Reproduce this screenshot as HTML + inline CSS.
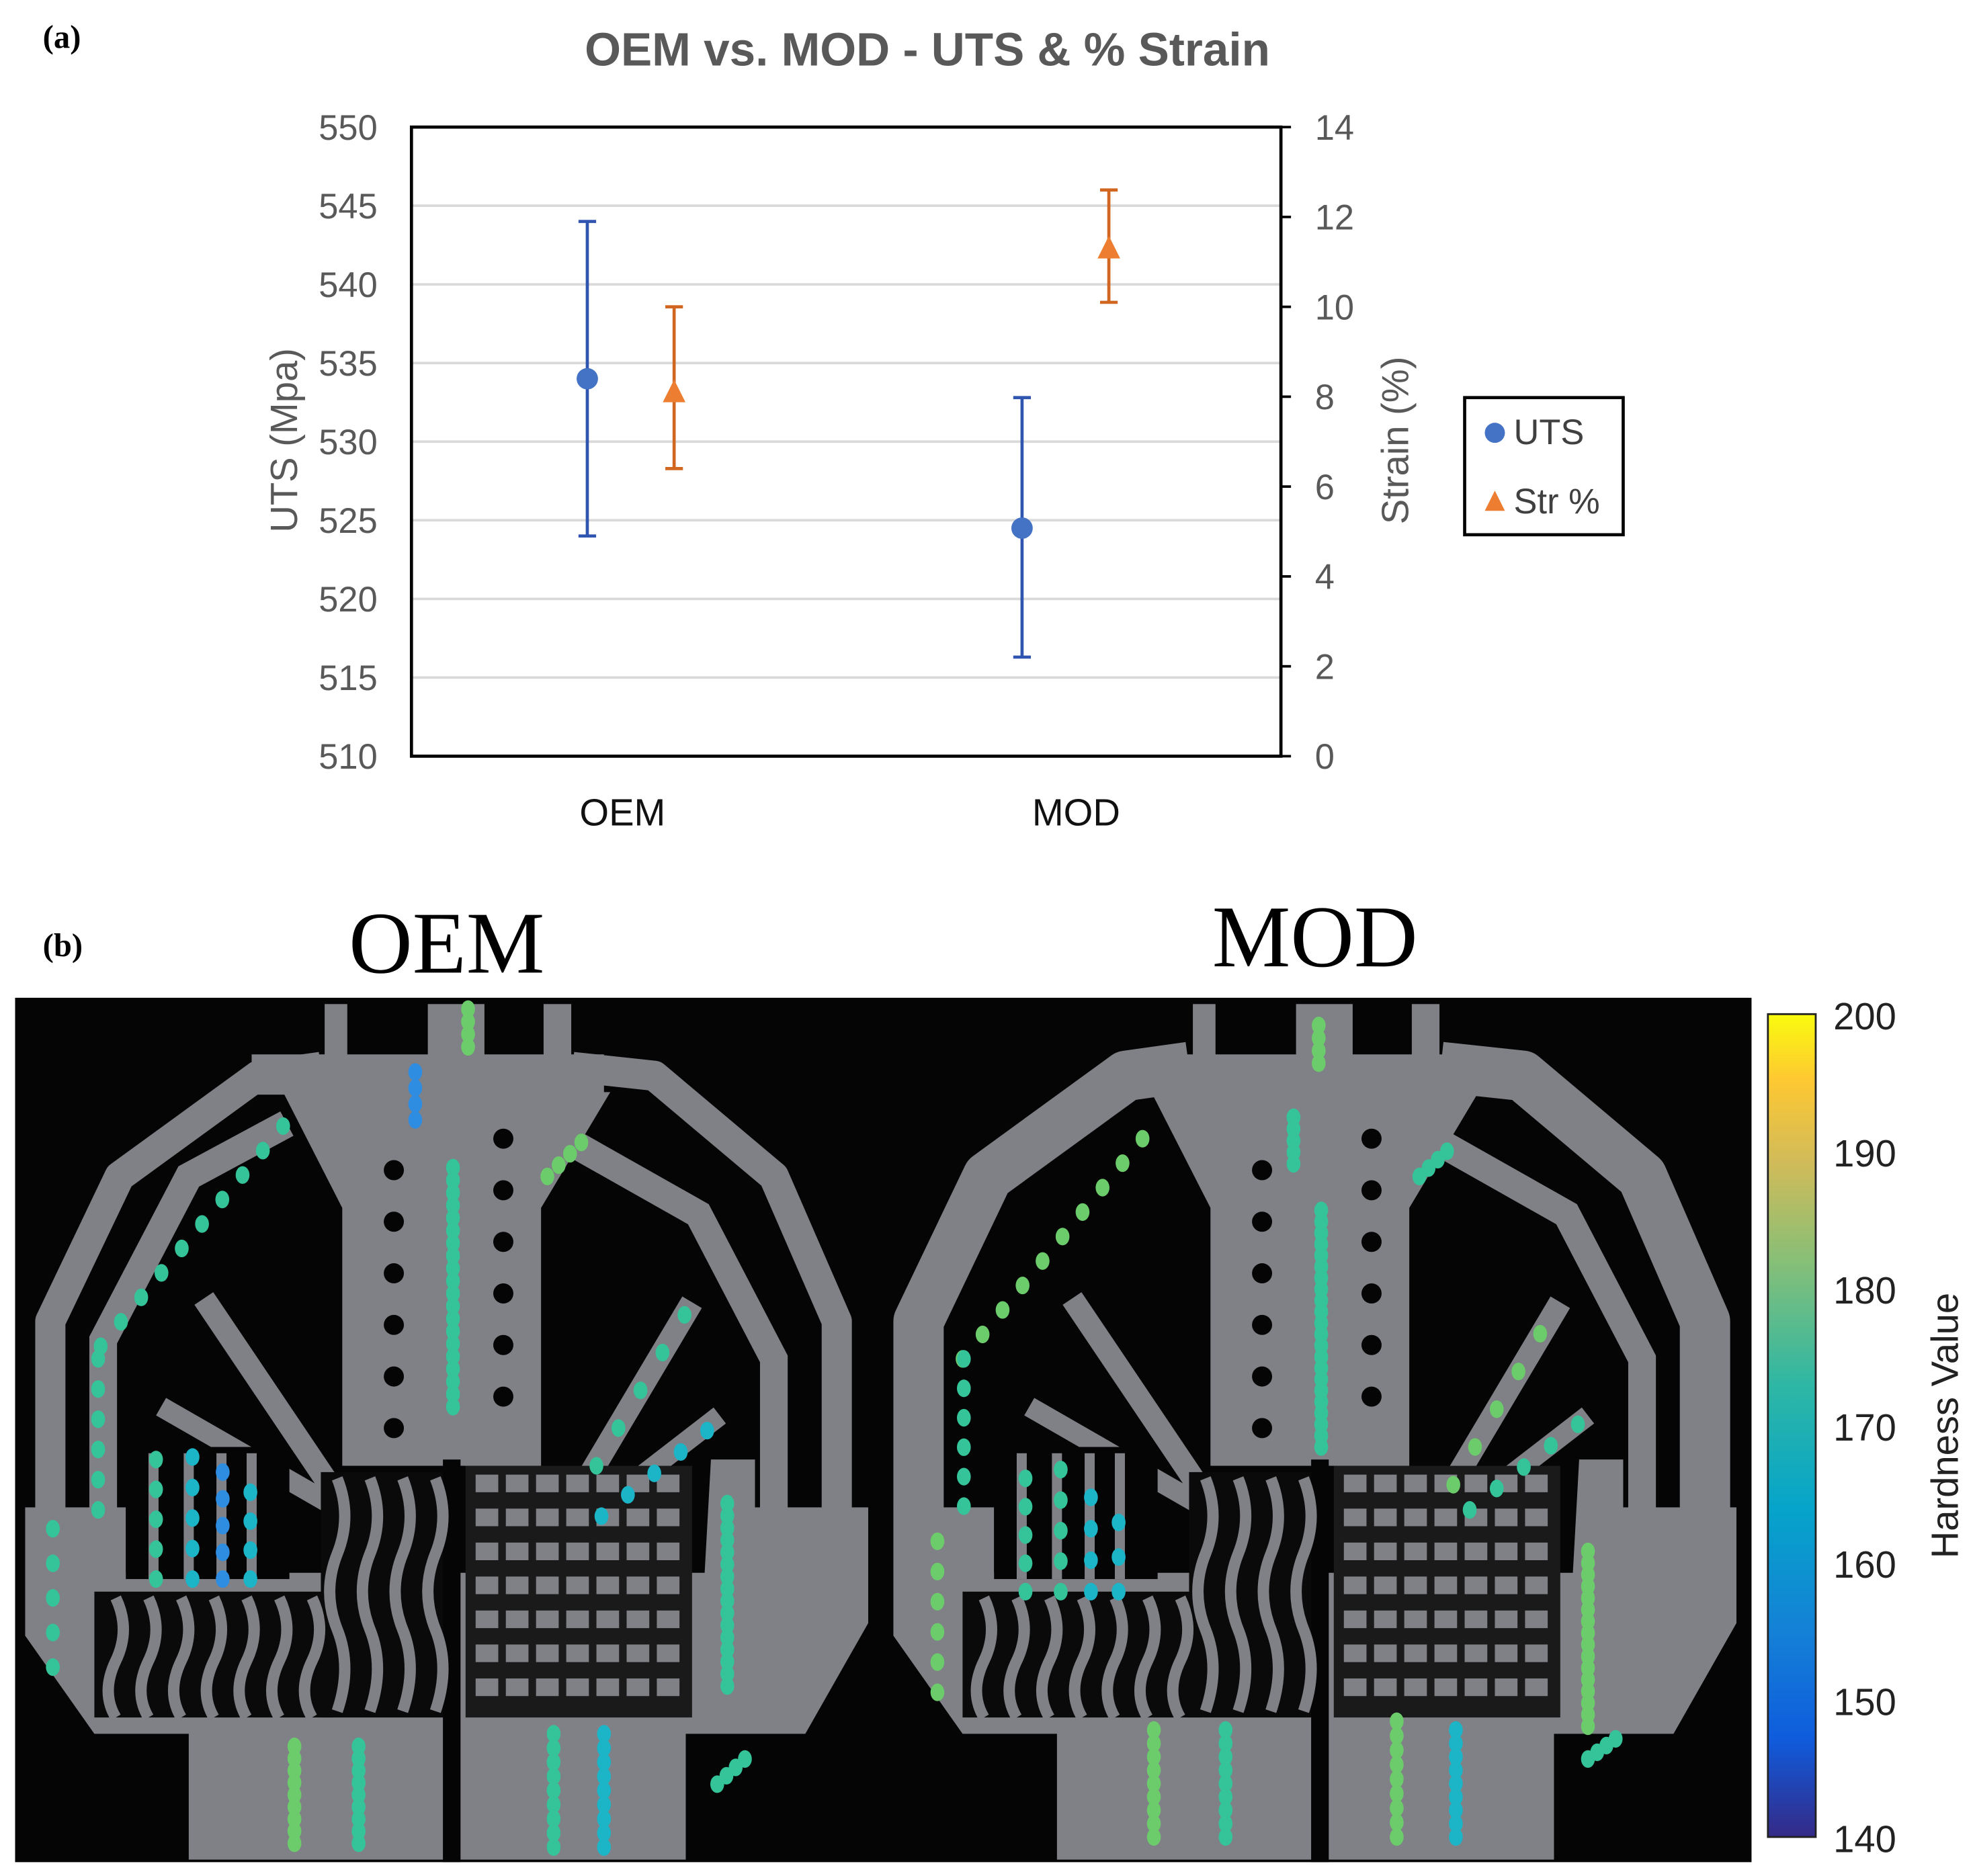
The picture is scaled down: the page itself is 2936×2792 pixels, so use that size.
<!DOCTYPE html>
<html><head><meta charset="utf-8"><style>
html,body{margin:0;padding:0;background:#fff;}
svg{display:block;}
</style></head><body>
<svg id="fig" width="2936" height="2792" viewBox="0 0 1568 1491" preserveAspectRatio="none" xmlns="http://www.w3.org/2000/svg">
<defs>
<linearGradient id="parula" x1="0" y1="1" x2="0" y2="0">
<stop offset="0" stop-color="#352a87"/><stop offset="0.12" stop-color="#0f5cdd"/><stop offset="0.25" stop-color="#1481d6"/><stop offset="0.4" stop-color="#06a4ca"/><stop offset="0.55" stop-color="#2eb7a4"/><stop offset="0.7" stop-color="#87bf77"/><stop offset="0.82" stop-color="#d1bb59"/><stop offset="0.92" stop-color="#fec832"/><stop offset="1" stop-color="#f9fb0e"/>
</linearGradient>
</defs>
<text x="34" y="38" font-family="Liberation Serif, serif" font-weight="bold" font-size="26">(a)</text>
<text x="737" y="52" text-anchor="middle" font-family="Liberation Sans, sans-serif" font-weight="bold" font-size="37" fill="#595959">OEM vs. MOD - UTS &amp; % Strain</text>
<g id="grid"></g>
<g id="axes"></g>
<g id="marks"></g>
<text transform="translate(236,350) rotate(-90)" text-anchor="middle" font-family="Liberation Sans, sans-serif" font-size="30" fill="#595959">UTS (Mpa)</text>
<text transform="translate(1119,350) rotate(-90)" text-anchor="middle" font-family="Liberation Sans, sans-serif" font-size="30" fill="#595959">Strain (%)</text>
<g>
<rect x="1164" y="316" width="126" height="109" fill="#fff" stroke="#000" stroke-width="2.5"/>
<circle cx="1188" cy="344" r="8" fill="#4472c4"/>
<text x="1203" y="353" font-family="Liberation Sans, sans-serif" font-size="28" fill="#404040">UTS</text>
<path d="M1180,406 L1188,390 L1196,406 Z" fill="#ed7d31"/>
<text x="1203" y="408" font-family="Liberation Sans, sans-serif" font-size="28" fill="#404040">Str %</text>
</g>

<text x="34" y="760" font-family="Liberation Serif, serif" font-weight="bold" font-size="26">(b)</text>
<text x="355" y="773" text-anchor="middle" font-family="Liberation Serif, serif" font-size="70">OEM</text>
<text x="1045" y="768" text-anchor="middle" font-family="Liberation Serif, serif" font-size="70">MOD</text>
<rect x="12" y="793" width="1380" height="687" fill="#050505"/>
<g id="parts"></g>
<g>
<rect x="1405" y="806" width="38" height="654" fill="url(#parula)" stroke="#222" stroke-width="1.5"/>
<g font-family="Liberation Sans, sans-serif" font-size="30" fill="#222">
<text x="1457" y="818">200</text><text x="1457" y="927">190</text><text x="1457" y="1036">180</text><text x="1457" y="1145">170</text><text x="1457" y="1254">160</text><text x="1457" y="1363">150</text><text x="1457" y="1472">140</text>
</g>
<text transform="translate(1556,1133) rotate(-90)" text-anchor="middle" font-family="Liberation Sans, sans-serif" font-size="30" fill="#222">Hardness Value</text>
</g>
</svg>
<script>
const categories = ["OEM", "MOD"];
const utsValues = [534, 524.5];
const utsErrLow = [524, 516.3];
const utsErrHigh = [544, 532.8];
const strainValues = [8.1, 11.3];
const strainErrLow = [6.4, 10.1];
const strainErrHigh = [10.0, 12.6];
const leftTicks = [510, 515, 520, 525, 530, 535, 540, 545, 550];
const rightTicks = [0, 2, 4, 6, 8, 10, 12, 14];

const NS = "http://www.w3.org/2000/svg";
const X0 = 327, X1 = 1018, Y0 = 101, Y1 = 601;
function yL(v){ return Y1 - (v - 510) / 40 * (Y1 - Y0); }
function yR(v){ return Y1 - v / 14 * (Y1 - Y0); }
function xCat(i, off){ return X0 + (X1 - X0) * (0.25 + 0.5 * i) + off; }
function mk(tag, attrs, parent){ const e = document.createElementNS(NS, tag); for (const k in attrs) e.setAttribute(k, attrs[k]); parent.appendChild(e); return e; }

const grid = document.getElementById('grid');
const axes = document.getElementById('axes');
const marks = document.getElementById('marks');
leftTicks.forEach(t => {
  if (t > 510 && t < 550) {
    const g = mk('line', {x1: X0, x2: X1, y1: yL(t), y2: yL(t), stroke: '#d9d9d9', 'stroke-width': 2}, grid);
    
    
  }
  const tx = mk('text', {x: 300, y: yL(t) + 10, 'text-anchor': 'end', 'font-family': 'Liberation Sans, sans-serif', 'font-size': 28, fill: '#595959'}, axes);
  tx.textContent = t;
  
  
});
rightTicks.forEach(t => {
  mk('line', {x1: X1, x2: X1 + 8, y1: yR(t), y2: yR(t), stroke: '#000', 'stroke-width': 2}, axes);
  const tx = mk('text', {x: 1045, y: yR(t) + 10, 'font-family': 'Liberation Sans, sans-serif', 'font-size': 28, fill: '#595959'}, axes);
  tx.textContent = t;
  
  
});
const frame = mk('rect', {x: X0, y: Y0, width: X1 - X0, height: Y1 - Y0, fill: 'none', stroke: '#000', 'stroke-width': 2.5}, axes);


categories.forEach((c, i) => {
  const tx = mk('text', {x: xCat(i, i ? 10 : -5), y: 656, 'text-anchor': 'middle', 'font-family': 'Liberation Sans, sans-serif', 'font-size': 30, fill: '#111'}, axes);
  tx.textContent = c;
  
  
  const ux = xCat(i, -33);
  mk('line', {x1: ux, x2: ux, y1: yL(utsErrLow[i]), y2: yL(utsErrHigh[i]), stroke: '#2f55b0', 'stroke-width': 2.5}, marks);
  mk('line', {x1: ux - 7, x2: ux + 7, y1: yL(utsErrLow[i]), y2: yL(utsErrLow[i]), stroke: '#2f55b0', 'stroke-width': 2.5}, marks);
  mk('line', {x1: ux - 7, x2: ux + 7, y1: yL(utsErrHigh[i]), y2: yL(utsErrHigh[i]), stroke: '#2f55b0', 'stroke-width': 2.5}, marks);
  const p = mk('circle', {cx: ux, cy: yL(utsValues[i]), r: 8.5, fill: '#4472c4'}, marks);
  
  
  const sx = xCat(i, 36);
  mk('line', {x1: sx, x2: sx, y1: yR(strainErrLow[i]), y2: yR(strainErrHigh[i]), stroke: '#d0661f', 'stroke-width': 2.5}, marks);
  mk('line', {x1: sx - 7, x2: sx + 7, y1: yR(strainErrLow[i]), y2: yR(strainErrLow[i]), stroke: '#d0661f', 'stroke-width': 2.5}, marks);
  mk('line', {x1: sx - 7, x2: sx + 7, y1: yR(strainErrHigh[i]), y2: yR(strainErrHigh[i]), stroke: '#d0661f', 'stroke-width': 2.5}, marks);
  const yy = yR(strainValues[i]);
  const tr = mk('path', {d: `M${sx - 9},${yy + 8} L${sx},${yy - 10} L${sx + 9},${yy + 8} Z`, fill: '#ed7d31'}, marks);
  
  
});

const parts = document.getElementById('parts');
const G = '#7f8186';
function drawPart(dx, name, mod){
  const g = mk('g', {transform: `translate(${dx},0)`}, parts);
  
  
  const sw = mod ? 40 : 24;
  mk('path', {d: 'M255,848 L205,855 L95,935 L40,1050 L40,1200', fill: 'none', stroke: G, 'stroke-width': sw, 'stroke-linejoin': 'round'}, g);
  mk('path', {d: 'M455,848 L520,855 L615,935 L665,1050 L665,1200', fill: 'none', stroke: G, 'stroke-width': sw, 'stroke-linejoin': 'round'}, g);
  if (!mod) mk('path', {d: 'M228,893 L150,935 L82,1065 L82,1200', fill: 'none', stroke: G, 'stroke-width': 22}, g);
  mk('path', {d: 'M440,900 L555,965 L615,1080 L615,1200', fill: 'none', stroke: G, 'stroke-width': 22}, g);
  mk('rect', {x: 200, y: 838, width: 280, height: 32, fill: G}, g);
  mk('rect', {x: 258, y: 798, width: 18, height: 42, fill: G}, g);
  mk('rect', {x: 340, y: 798, width: 45, height: 42, fill: G}, g);
  mk('rect', {x: 432, y: 798, width: 22, height: 42, fill: G}, g);
  mk('path', {d: 'M225,868 L485,868 L430,960 L430,1165 L272,1165 L272,960 Z', fill: G}, g);
  for (let k = 0; k < 6; k++) {
    mk('circle', {cx: 313, cy: 930 + k * 41, r: 8, fill: '#050505'}, g);
    mk('circle', {cx: 400, cy: 905 + k * 41, r: 8, fill: '#050505'}, g);
  }
  mk('line', {x1: 265, y1: 1185, x2: 162, y2: 1032, stroke: G, 'stroke-width': 18}, g);
  mk('line', {x1: 262, y1: 1195, x2: 128, y2: 1118, stroke: G, 'stroke-width': 16}, g);
  mk('line', {x1: 452, y1: 1200, x2: 550, y2: 1035, stroke: G, 'stroke-width': 18}, g);
  mk('line', {x1: 462, y1: 1210, x2: 572, y2: 1125, stroke: G, 'stroke-width': 16}, g);
  mk('path', {d: 'M20,1198 L100,1198 L100,1250 L560,1250 L565,1160 L600,1160 L600,1198 L690,1198 L690,1290 L640,1378 L545,1378 L545,1478 L150,1478 L150,1378 L75,1378 L20,1300 Z', fill: G}, g);
  mk('rect', {x: 100, y: 1150, width: 130, height: 105, fill: '#050505'}, g);
  [122, 150, 176, 200].forEach(x => mk('rect', {x: x - 4, y: 1155, width: 8, height: 100, fill: G}, g));
  mk('rect', {x: 75, y: 1265, width: 190, height: 100, fill: '#0a0a0a'}, g);
  mk('rect', {x: 255, y: 1170, width: 100, height: 195, fill: '#0a0a0a'}, g);
  mk('rect', {x: 370, y: 1165, width: 180, height: 200, fill: '#1a1a1a'}, g);
  mk('rect', {x: 352, y: 1160, width: 14, height: 320, fill: '#050505'}, g);
  for (let k = 0; k < 7; k++) {
    mk('path', {d: `M${92 + k * 26},1270 q12,25 0,50 q-12,25 0,45`, fill: 'none', stroke: G, 'stroke-width': 9}, g);
  }
  for (let k = 0; k < 4; k++) {
    mk('path', {d: `M${268 + k * 26},1175 q12,30 0,60 q-12,30 0,60 q12,30 0,65`, fill: 'none', stroke: G, 'stroke-width': 9}, g);
  }
  for (let r = 0; r < 7; r++) for (let c = 0; c < 7; c++) {
    mk('rect', {x: 378 + c * 24, y: 1172 + r * 27, width: 18, height: 14, fill: G}, g);
  }
}
drawPart(0, 'oem-micrograph', false);
drawPart(690, 'mod-micrograph', true);

function dotCol(x1, y1, x2, y2, n, col){
  for (let k = 0; k < n; k++) {
    const t = n > 1 ? k / (n - 1) : 0;
    mk('ellipse', {cx: x1 + (x2 - x1) * t, cy: y1 + (y2 - y1) * t, rx: 5.5, ry: 7, fill: col}, parts);
  }
}
const T = '#35c49a', C = '#1cb5c8', L = '#6ccb6a', B = '#2e8de0';
dotCol(372, 802, 372, 832, 4, L); dotCol(330, 852, 330, 890, 4, B);
dotCol(360, 928, 360, 1118, 20, T); dotCol(225, 895, 80, 1070, 10, T);
dotCol(78, 1080, 78, 1200, 6, T); dotCol(42, 1215, 42, 1325, 5, T);
dotCol(124, 1160, 124, 1255, 5, T); dotCol(153, 1158, 153, 1255, 5, C); dotCol(177, 1170, 177, 1255, 5, B); dotCol(199, 1186, 199, 1255, 4, C);
dotCol(435, 935, 462, 908, 4, L); dotCol(544, 1045, 474, 1165, 5, T); dotCol(562, 1137, 478, 1205, 5, C);
dotCol(578, 1195, 578, 1340, 16, T); dotCol(234, 1388, 234, 1465, 9, L); dotCol(285, 1388, 285, 1465, 9, T);
dotCol(440, 1378, 440, 1468, 9, T); dotCol(480, 1378, 480, 1468, 9, C); dotCol(570, 1418, 592, 1398, 4, T);
dotCol(1048, 815, 1048, 845, 4, L); dotCol(1028, 888, 1028, 925, 5, T);
dotCol(1050, 962, 1050, 1150, 22, T); dotCol(908, 905, 765, 1080, 10, L);
dotCol(766, 1080, 766, 1197, 6, T); dotCol(745, 1225, 745, 1345, 6, L);
dotCol(815, 1175, 815, 1265, 5, T); dotCol(843, 1168, 843, 1265, 5, T); dotCol(867, 1190, 867, 1265, 4, C); dotCol(889, 1210, 889, 1265, 3, C);
dotCol(1128, 935, 1150, 915, 4, T); dotCol(1224, 1060, 1155, 1180, 5, L); dotCol(1254, 1132, 1168, 1200, 5, T);
dotCol(1262, 1233, 1262, 1372, 16, L); dotCol(917, 1375, 917, 1460, 9, L); dotCol(974, 1375, 974, 1460, 9, T);
dotCol(1110, 1368, 1110, 1460, 9, L); dotCol(1157, 1375, 1157, 1460, 9, C); dotCol(1262, 1398, 1284, 1382, 4, T);
</script>
</body></html>
